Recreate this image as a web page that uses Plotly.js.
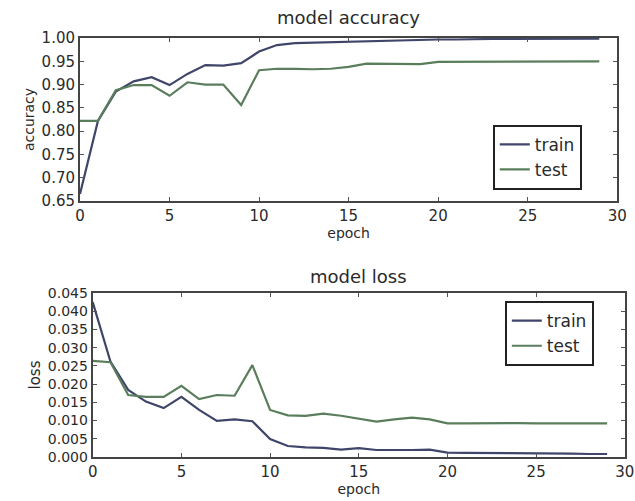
<!DOCTYPE html>
<html>
<head>
<meta charset="utf-8">
<script src="https://cdn.plot.ly/plotly-3.0.1.min.js"></script>
<style>html,body{margin:0;padding:0;background:#fff}#chart{width:635px;height:501px}</style>
</head>
<body>
<div id="chart"></div>
<script>
const epochs = [0,1,2,3,4,5,6,7,8,9,10,11,12,13,14,15,16,17,18,19,20,21,22,23,24,25,26,27,28,29];
const accTrain = [0.665,0.822,0.885,0.907,0.916,0.899,0.923,0.942,0.941,0.946,0.971,0.985,0.989,0.990,0.992,0.993,0.994,0.995,0.996,0.996,0.997,0.997,0.998,0.998,0.998,0.998,0.999,0.999,0.999,0.999];
const accTest = [0.822,0.822,0.888,0.899,0.899,0.876,0.905,0.900,0.900,0.856,0.931,0.934,0.934,0.933,0.934,0.938,0.945,0.945,0.944,0.944,0.949,0.949,0.949,0.949,0.950,0.950,0.950,0.950,0.950,0.950];
const lossTrain = [0.0425,0.0262,0.0184,0.0152,0.0134,0.0165,0.0129,0.0099,0.0103,0.0098,0.0049,0.0030,0.0026,0.0025,0.0020,0.0024,0.0019,0.0018,0.0019,0.0020,0.0012,0.0011,0.0011,0.0010,0.0010,0.0009,0.0009,0.0009,0.0008,0.0008];
const lossTest = [0.0264,0.0260,0.0170,0.0165,0.0165,0.0195,0.0159,0.0170,0.0168,0.0252,0.0129,0.0114,0.0113,0.0119,0.0113,0.0106,0.0097,0.0103,0.0108,0.0103,0.0092,0.0092,0.0093,0.0094,0.0093,0.0092,0.0092,0.0092,0.0092,0.0092];
const seriesNames = ['train','test'];

const cTrain = '#40456a';
const cTest = '#5a7e5c';
const txt = '#2a2a2a';
const font = 'DejaVu Sans, sans-serif';

const traces = [
  {x: epochs, y: accTrain, name: seriesNames[0], mode: 'lines', line: {color: cTrain, width: 2.2}, xaxis: 'x', yaxis: 'y', legend: 'legend'},
  {x: epochs, y: accTest, name: seriesNames[1], mode: 'lines', line: {color: cTest, width: 2.2}, xaxis: 'x', yaxis: 'y', legend: 'legend'},
  {x: epochs, y: lossTrain, name: seriesNames[0], mode: 'lines', line: {color: cTrain, width: 2.2}, xaxis: 'x2', yaxis: 'y2', legend: 'legend2'},
  {x: epochs, y: lossTest, name: seriesNames[1], mode: 'lines', line: {color: cTest, width: 2.2}, xaxis: 'x2', yaxis: 'y2', legend: 'legend2'}
];

function ax(extra, fs) {
  return Object.assign({
    showgrid: false, zeroline: false, showline: true, linecolor: '#444', linewidth: 2,
    mirror: 'allticks', ticks: 'inside', ticklen: 4, tickcolor: '#555',
    tickfont: {family: font, size: fs, color: txt}
  }, extra);
}

const layout = {
  width: 635, height: 501,
  margin: {l: 0, r: 0, t: 0, b: 0},
  paper_bgcolor: '#fff', plot_bgcolor: '#fff',
  font: {family: font, color: txt},
  showlegend: true,
  xaxis: ax({domain: [0.126, 0.972], range: [0, 30], dtick: 5, anchor: 'y',
    title: {text: 'epoch', font: {family: font, size: 14, color: txt}, standoff: 4}}, 15),
  yaxis: ax({domain: [0.599, 0.924], range: [0.65, 1.0], dtick: 0.05, tickformat: '.2f', anchor: 'x',
    title: {text: 'accuracy', font: {family: font, size: 14, color: txt}, standoff: 4}}, 15),
  xaxis2: ax({domain: [0.146, 0.984], range: [0, 30], dtick: 5, anchor: 'y2',
    title: {text: 'epoch', font: {family: font, size: 14, color: txt}, standoff: 2}}, 15),
  yaxis2: ax({domain: [0.088, 0.415], range: [0, 0.045], dtick: 0.005, tickformat: '.3f', anchor: 'x2',
    title: {text: 'loss', font: {family: font, size: 15, color: txt}, standoff: 4}}, 14),
  legend: {x: 0.776, y: 0.751, xanchor: 'left', yanchor: 'top', bordercolor: '#222', borderwidth: 2, bgcolor: '#fff',
    font: {family: font, size: 17, color: txt}, tracegroupgap: 0},
  legend2: {x: 0.795, y: 0.399, xanchor: 'left', yanchor: 'top', bordercolor: '#222', borderwidth: 2, bgcolor: '#fff',
    font: {family: font, size: 17, color: txt}, tracegroupgap: 0},
  annotations: [
    {text: 'model accuracy', xref: 'paper', yref: 'paper', x: 0.549, y: 0.966, xanchor: 'center', yanchor: 'middle', showarrow: false, font: {family: font, size: 18, color: txt}},
    {text: 'model loss', xref: 'paper', yref: 'paper', x: 0.565, y: 0.449, xanchor: 'center', yanchor: 'middle', showarrow: false, font: {family: font, size: 18, color: txt}}
  ]
};

Plotly.newPlot('chart', traces, layout, {displayModeBar: false, staticPlot: true});
</script>
</body>
</html>
